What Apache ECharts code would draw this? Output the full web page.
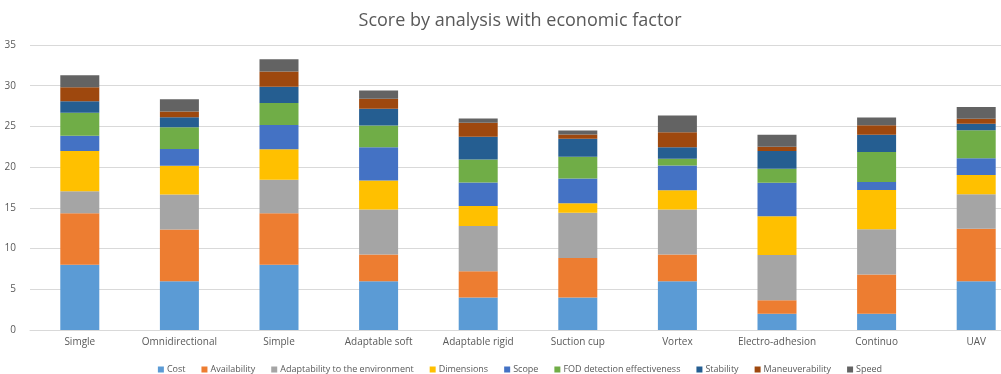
<!DOCTYPE html>
<html><head><meta charset="utf-8">
<script src="https://cdn.jsdelivr.net/npm/echarts@6/dist/echarts.min.js"></script>
<style>html,body{margin:0;padding:0;background:#fff;overflow:hidden;width:1001px;height:374px}#c{width:1040px;height:374px}</style>
</head><body><div id="c"></div>
<script>
const categories = ["Simgle","Omnidirectional","Simple","Adaptable soft","Adaptable rigid","Suction cup","Vortex","Electro-adhesion","Continuo","UAV"];
const seriesNames = ["Cost","Availability","Adaptability to the environment","Dimensions","Scope","FOD detection effectiveness","Stability","Maneuverability","Speed"];
const cost            = [8, 6, 8, 6, 4, 4, 6, 2, 2, 6];
const availability    = [6.33, 6.33, 6.33, 3.27, 3.23, 4.83, 3.27, 1.64, 4.83, 6.42];
const adaptability    = [2.7, 4.3, 4.13, 5.53, 5.53, 5.57, 5.53, 5.57, 5.53, 4.26];
const dimensions      = [4.95, 3.55, 3.73, 3.56, 2.46, 1.18, 2.37, 4.75, 4.83, 2.37];
const scope           = [1.88, 2.05, 2.98, 4.09, 2.9, 3.03, 3.03, 4.13, 0.98, 2.05];
const fod             = [2.83, 2.66, 2.71, 2.66, 2.83, 2.66, 0.82, 1.72, 3.69, 3.44];
const stability       = [1.39, 1.25, 2.0, 2.05, 2.78, 2.21, 1.43, 2.17, 2.12, 0.78];
const maneuverability = [1.72, 0.7, 1.88, 1.23, 1.72, 0.54, 1.84, 0.53, 1.15, 0.61];
const speed           = [1.5, 1.5, 1.48, 1.02, 0.53, 0.49, 2.05, 1.47, 0.98, 1.47];
const yTicks = [0, 5, 10, 15, 20, 25, 30, 35];

const values = [cost, availability, adaptability, dimensions, scope, fod, stability, maneuverability, speed];
const colors = ["#5B9BD5","#ED7D31","#A5A5A5","#FFC000","#4472C4","#70AD47","#255E91","#9E480E","#636363"];
const font = "'Open Sans', 'Noto Sans', sans-serif";

const chart = echarts.init(document.getElementById('c'));
chart.setOption({
  animation: false,
  color: colors,
  title: {
    text: "Score by analysis with economic factor",
    left: 'center', top: 7,
    textStyle: {fontFamily: font, fontSize: 18, fontWeight: 'normal', color: '#595959'}
  },
  legend: {
    top: 360, left: 'center',
    itemWidth: 6, itemHeight: 6, itemGap: 16,
    icon: 'rect',
    textStyle: {fontFamily: font, fontSize: 9, color: '#595959', padding: [0,0,0,-2]},
    data: seriesNames
  },
  grid: {left: 30, right: 14, top: 45, bottom: 44, containLabel: false},
  xAxis: {
    type: 'category', data: categories,
    axisTick: {show: false},
    axisLine: {lineStyle: {color: '#d9d9d9'}},
    axisLabel: {fontFamily: font, fontSize: 10, color: '#595959', margin: 7, interval: 0}
  },
  yAxis: {
    type: 'value', min: yTicks[0], max: yTicks[yTicks.length-1], interval: 5,
    axisLine: {show: false}, axisTick: {show: false},
    splitLine: {lineStyle: {color: '#d9d9d9'}},
    axisLabel: {fontFamily: font, fontSize: 10, color: '#595959', margin: 14}
  },
  series: seriesNames.map((n, i) => ({
    name: n, type: 'bar', stack: 'total', barWidth: 39,
    data: values[i]
  }))
});
</script></body></html>
